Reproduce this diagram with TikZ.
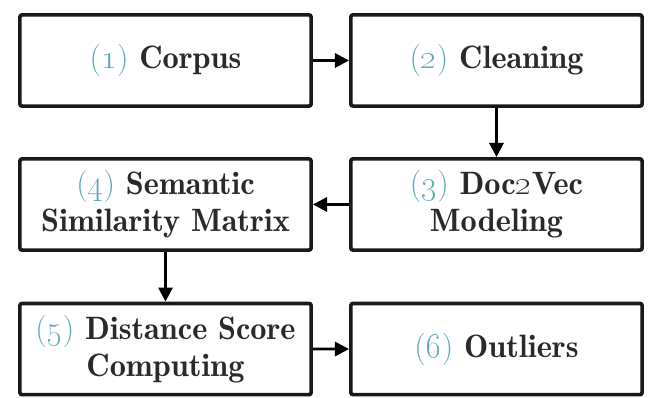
\documentclass[tikz,border=0pt]{standalone}
\usepackage{amsmath}
\usepackage{tikz}
\usetikzlibrary{arrows.meta}
\definecolor{numblue}{RGB}{95,168,186}
\definecolor{boxtext}{RGB}{42,42,42}
\newcommand{\stepno}[1]{{\fontseries{m}\selectfont\color{numblue}(\oldstylenums{#1})}}

\begin{document}
\begin{tikzpicture}[scale=0.2]
\tikzstyle{every node}+=[inner sep=0pt]
\tikzstyle{stage}=[draw=black!90, line width=2.6pt, rounded corners=1.5pt, minimum width=7.28cm, minimum height=2.28cm, align=center, text=boxtext, font=\fontsize{23}{26.5}\fontseries{b}\selectfont]
\tikzstyle{flow}=[black, line width=2pt, -{Triangle[length=10pt,width=10pt]}]
\useasboundingbox (0,0) rectangle (81.125,-49.75);
\node [stage] (corpus) at (20.69,-7.56) {\stepno{1} Corpus};
\node [stage] (cleaning) at (62.06,-7.56) {\stepno{2} Cleaning};
\node [stage] (doctovec) at (62.06,-25.56) {\stepno{3} Doc\oldstylenums{2}Vec\\Modeling};
\node [stage] (simmatrix) at (20.69,-25.56) {\stepno{4} Semantic\\Similarity Matrix};
\node [stage] (distscore) at (20.69,-43.63) {\stepno{5} Distance Score\\Computing};
\node [stage] (outliers) at (62.06,-43.63) {\stepno{6} Outliers};
\draw [flow] (corpus) -- (cleaning);
\draw [flow] (cleaning) -- (doctovec);
\draw [flow] (doctovec) -- (simmatrix);
\draw [flow] (simmatrix) -- (distscore);
\draw [flow] (distscore) -- (outliers);
\end{tikzpicture}
\end{document}
